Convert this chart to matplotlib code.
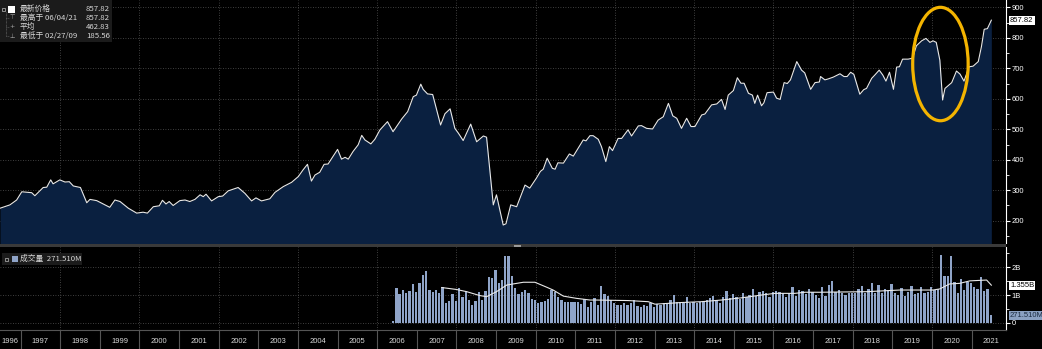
import numpy as np
import matplotlib.pyplot as plt
from matplotlib.patches import Ellipse, Rectangle

plt.rcParams['font.family'] = ['Liberation Sans', 'DejaVu Sans']
CJK = ['Noto Sans CJK SC', 'DejaVu Sans']

# price index (decimal year, level)
price_t = [1996.48, 1996.73, 1996.90, 1997.03, 1997.28, 1997.36, 1997.57, 1997.66, 1997.76, 1997.82,
           1997.99, 1998.12, 1998.23, 1998.33, 1998.51, 1998.67, 1998.75, 1998.92, 1999.25, 1999.38,
           1999.51, 1999.72, 1999.93, 2000.09, 2000.20, 2000.35, 2000.50, 2000.58, 2000.67, 2000.75,
           2000.85, 2001.02, 2001.15, 2001.27, 2001.40, 2001.53, 2001.61, 2001.68, 2001.82, 2001.99,
           2002.10, 2002.24, 2002.49, 2002.66, 2002.83, 2002.94, 2003.08, 2003.29, 2003.42, 2003.63,
           2003.84, 2004.01, 2004.13, 2004.24, 2004.34, 2004.43, 2004.55, 2004.66, 2004.76, 2005.00,
           2005.10, 2005.19, 2005.27, 2005.39, 2005.52, 2005.61, 2005.69, 2005.84, 2005.94, 2006.07,
           2006.26, 2006.40, 2006.62, 2006.77, 2006.91, 2006.99, 2007.10, 2007.16, 2007.27, 2007.40,
           2007.60, 2007.71, 2007.84, 2007.96, 2008.05, 2008.17, 2008.36, 2008.51, 2008.68, 2008.76,
           2008.93, 2009.01, 2009.18, 2009.25, 2009.37, 2009.52, 2009.73, 2009.85, 2010.02, 2010.12,
           2010.19, 2010.29, 2010.42, 2010.49, 2010.56, 2010.70, 2010.85, 2010.95, 2011.20, 2011.27,
           2011.37, 2011.45, 2011.58, 2011.66, 2011.77, 2011.86, 2011.94, 2012.08, 2012.17, 2012.33,
           2012.42, 2012.59, 2012.67, 2012.80, 2012.95, 2013.09, 2013.22, 2013.35, 2013.46, 2013.56,
           2013.68, 2013.81, 2013.92, 2014.02, 2014.19, 2014.27, 2014.44, 2014.57, 2014.69, 2014.78,
           2014.86, 2014.99, 2015.09, 2015.18, 2015.26, 2015.37, 2015.47, 2015.53, 2015.60, 2015.70,
           2015.76, 2015.84, 2016.00, 2016.08, 2016.17, 2016.27, 2016.35, 2016.43, 2016.59, 2016.71,
           2016.79, 2016.94, 2017.05, 2017.16, 2017.19, 2017.30, 2017.38, 2017.51, 2017.68, 2017.78,
           2017.86, 2017.95, 2018.03, 2018.18, 2018.28, 2018.35, 2018.48, 2018.56, 2018.67, 2018.76,
           2018.84, 2018.93, 2019.03, 2019.11, 2019.18, 2019.26, 2019.40, 2019.51, 2019.61, 2019.74,
           2019.85, 2019.95, 2020.03, 2020.11, 2020.20, 2020.27, 2020.33, 2020.50, 2020.62, 2020.71,
           2020.81, 2020.94, 2021.04, 2021.17, 2021.25, 2021.32, 2021.40, 2021.50]
price_v = [241, 252, 268, 295, 292, 282, 309, 310, 334, 321,
           334, 327, 328, 314, 309, 259, 270, 266, 244, 268,
           263, 241, 225, 228, 225, 246, 249, 267, 255, 263,
           250, 266, 268, 263, 270, 285, 279, 287, 265, 279,
           281, 298, 309, 290, 265, 275, 265, 272, 293, 312,
           326, 345, 367, 385, 330, 350, 359, 385, 386, 434,
           402, 408, 402, 427, 449, 480, 465, 452, 467, 498,
           525, 492, 534, 558, 607, 612, 648, 631, 616, 614,
           514, 551, 567, 503, 487, 463, 517, 459, 478, 474,
           252, 285, 186, 190, 252, 246, 317, 307, 340, 362,
           369, 405, 372, 369, 390, 389, 419, 412, 465, 462,
           479, 479, 467, 443, 394, 443, 430, 470, 470, 498,
           478, 511, 512, 503, 501, 530, 541, 585, 544, 536,
           503, 536, 509, 509, 547, 550, 580, 583, 598, 565,
           612, 627, 669, 651, 651, 618, 612, 585, 612, 577,
           587, 620, 622, 602, 598, 653, 650, 662, 722, 694,
           685, 631, 653, 655, 673, 662, 665, 671, 682, 673,
           673, 687, 680, 615, 630, 634, 667, 678, 694, 678,
           658, 687, 631, 704, 705, 730, 730, 733, 774, 790,
           798, 785, 790, 785, 727, 596, 634, 653, 691, 681,
           658, 705, 707, 722, 771, 828, 830, 857.82]

# monthly volume in billions, first bar mid-2006
vol_start = 2006.40
vol_b = [0.07, 1.24, 1.02, 1.18, 1.08, 1.14, 1.40, 1.12, 1.42, 1.72,
         1.87, 1.18, 1.12, 1.18, 1.08, 1.28, 0.70, 0.80, 1.04, 0.80,
         1.24, 0.94, 1.14, 0.82, 0.64, 0.80, 1.11, 0.82, 1.14, 1.66,
         1.60, 1.90, 1.45, 1.54, 2.39, 2.42, 1.69, 1.24, 1.04, 1.10,
         1.18, 1.06, 0.84, 0.82, 0.72, 0.76, 0.78, 0.84, 1.18, 1.12,
         0.94, 0.82, 0.76, 0.76, 0.76, 0.76, 0.76, 0.67, 0.84, 0.58,
         0.76, 0.88, 0.64, 1.33, 1.02, 0.96, 0.82, 0.72, 0.64, 0.64,
         0.72, 0.64, 0.72, 0.82, 0.60, 0.58, 0.64, 0.60, 0.70, 0.58,
         0.67, 0.64, 0.70, 0.67, 0.82, 1.00, 0.76, 0.76, 0.72, 0.94,
         0.72, 0.76, 0.72, 0.76, 0.80, 0.82, 0.88, 0.96, 0.82, 0.70,
         0.92, 1.14, 0.88, 1.04, 0.94, 0.84, 1.08, 0.94, 1.00, 1.20,
         0.96, 1.10, 1.16, 1.06, 0.94, 1.12, 1.16, 1.12, 1.08, 0.94,
         1.08, 1.28, 0.96, 1.18, 1.16, 1.02, 1.20, 1.12, 1.00, 0.88,
         1.28, 0.96, 1.36, 1.51, 1.12, 1.18, 1.08, 1.00, 1.06, 1.08,
         1.06, 1.20, 1.33, 1.08, 1.20, 1.45, 1.06, 1.36, 1.08, 1.20,
         1.18, 1.40, 1.06, 1.00, 1.27, 0.96, 1.12, 1.33, 1.04, 1.08,
         1.28, 1.08, 1.12, 1.28, 1.18, 1.20, 2.45, 1.69, 1.69, 2.41,
         1.48, 1.08, 1.57, 1.18, 1.48, 1.42, 1.28, 1.20, 1.66, 1.14,
         1.20, 0.27151]
vol_t = vol_start + np.arange(len(vol_b)) / 12

# volume moving average
ma_t = [2007.63, 2008.00, 2008.26, 2008.59, 2008.76, 2009.01, 2009.27, 2009.52, 2009.69, 2009.98,
        2010.28, 2010.44, 2010.70, 2011.03, 2011.37, 2011.50, 2012.34, 2012.84, 2013.01, 2013.35,
        2013.68, 2014.19, 2014.69, 2015.20, 2015.70, 2016.04, 2016.54, 2016.80, 2017.18, 2018.35,
        2019.19, 2020.03, 2020.20, 2020.45, 2020.70, 2020.96, 2021.38, 2021.50]
ma_b = [1.27, 1.20, 1.12, 0.98, 0.94, 1.12, 1.36, 1.42, 1.46, 1.46,
        1.28, 1.18, 0.96, 0.88, 0.82, 0.82, 0.80, 0.76, 0.67, 0.70,
        0.73, 0.76, 0.82, 0.90, 1.00, 1.06, 1.06, 1.10, 1.10, 1.12,
        1.18, 1.18, 1.22, 1.40, 1.42, 1.51, 1.54, 1.355]

legend_rows = [("最新价格", "857.82"), ("最高于 06/04/21", "857.82"),
               ("平均", "462.83"), ("最低于 02/27/09", "185.56")]
legend_icons = ["", "⊤", "+", "⊥"]
last_price = price_v[-1]
last_ma = ma_b[-1]
last_vol = vol_b[-1]

years = list(range(1996, 2022))
year_starts = years[1:]
year_lbl_pos = [y + 0.5 for y in years]
year_lbl_pos[0] = 1996.72

NAVY = '#0a2040'
BAR = '#8fa4c8'
GRID = '#555555'
TXT = '#d8d8d8'
W, H = 1042, 349
x_lim = (1996.48, 2021.87)

fig = plt.figure(figsize=(W / 100, H / 100), dpi=100, facecolor='black')
ax = fig.add_axes([0, 1 - 243 / H, 1006 / W, 243 / H])
axv = fig.add_axes([0, 1 - 330 / H, 1006 / W, 83 / H])

# --- price panel
ax.set_facecolor('black')
ax.fill_between(price_t, price_v, 0, color=NAVY, lw=0, zorder=2)
ax.plot(price_t, price_v, color='#e8e8e8', lw=0.8, zorder=3)
ax.set_xlim(*x_lim)
ax.set_ylim(127, 924)
for v in range(200, 901, 100):
    ax.axhline(v, color=GRID, lw=0.6, ls=(0, (1, 2)), zorder=1)
for y in range(1998, 2021, 2):
    ax.axvline(y, color=GRID, lw=0.6, ls=(0, (1, 2)), zorder=1)
ax.add_patch(Ellipse((2020.215, 714), 1.40, 372, fill=False,
                     edgecolor='#f4b400', lw=2.3, zorder=4))

ax.yaxis.tick_right()
ax.set_yticks(range(200, 901, 100))
ax.set_yticks(range(150, 900, 100), minor=True)
ax.tick_params(axis='y', which='major', colors='white', labelsize=5.5, length=3, pad=1)
ax.tick_params(axis='y', which='minor', colors='white', length=2)
ax.tick_params(axis='x', which='both', length=0, labelbottom=False)
for s in ['top', 'left', 'bottom']:
    ax.spines[s].set_visible(False)
ax.spines['right'].set_color('white')
ax.annotate(f"{last_price:.2f}", xy=(1.004, last_price), xycoords=('axes fraction', 'data'),
            va='center', ha='left', fontsize=5.5, color='black',
            bbox=dict(boxstyle='square,pad=0.15', fc='white', ec='none'), annotation_clip=False)

# --- volume panel
axv.set_facecolor('black')
axv.bar(vol_t, vol_b, width=0.7 / 12, color=BAR, lw=0, zorder=2)
axv.plot(ma_t, ma_b, color='#e8e8e8', lw=0.8, zorder=3)
axv.set_xlim(*x_lim)
axv.set_ylim(-0.26, 2.73)
for v in [0, 1, 2]:
    axv.axhline(v, color=GRID, lw=0.6, ls=(0, (1, 2)), zorder=1)
for y in range(1998, 2021, 2):
    axv.axvline(y, color=GRID, lw=0.6, ls=(0, (1, 2)), zorder=1)

axv.yaxis.tick_right()
axv.set_yticks([0, 1, 2])
axv.set_yticklabels(['0', '1B', '2B'])
axv.set_yticks([0.5, 1.5, 2.5], minor=True)
axv.tick_params(axis='y', which='major', colors='white', labelsize=5.5, length=3, pad=1)
axv.tick_params(axis='y', which='minor', colors='white', length=2)
axv.set_xticks(year_starts)
axv.set_xticklabels([])
axv.set_xticks(year_lbl_pos, minor=True)
axv.set_xticklabels([str(y) for y in years], minor=True)
axv.tick_params(axis='x', which='major', colors='#555555', length=14, width=0.8)
axv.tick_params(axis='x', which='minor', length=0, pad=6, labelsize=5.5, labelcolor=TXT)
axv.spines['top'].set_visible(False)
axv.spines['left'].set_visible(False)
axv.spines['bottom'].set_color('#555555')
axv.spines['right'].set_color('white')
axv.annotate(f"{last_ma:.3f}B", xy=(1.004, last_ma), xycoords=('axes fraction', 'data'),
             va='center', ha='left', fontsize=5.5, color='black',
             bbox=dict(boxstyle='square,pad=0.15', fc='white', ec='none'), annotation_clip=False)
axv.annotate(f"{last_vol * 1000:.3f}M", xy=(1.004, last_vol), xycoords=('axes fraction', 'data'),
             va='center', ha='left', fontsize=5.5, color='#1a2a40',
             bbox=dict(boxstyle='square,pad=0.15', fc='#8aa0c2', ec='none'), annotation_clip=False)

# separator between panels
fig.add_artist(Rectangle((0, 1 - 247 / H), 1006 / W, 3 / H, transform=fig.transFigure,
                         color='#3a3a3a', lw=0))
fig.add_artist(Rectangle((514 / W, 1 - 246.5 / H), 7 / W, 2 / H, transform=fig.transFigure,
                         color='#9a9a9a', lw=0))

# price legend box
fig.add_artist(Rectangle((0, 1 - 42 / H), 112 / W, 42 / H, transform=fig.transFigure,
                         color='#1b1b1b', lw=0, zorder=5))
fig.add_artist(Rectangle((2 / W, 1 - 11 / H), 3 / W, 3 / H, transform=fig.transFigure,
                         fill=False, ec='#bbbbbb', lw=0.5, zorder=6))
fig.add_artist(Rectangle((7.5 / W, 1 - 13 / H), 7 / W, 7 / H, transform=fig.transFigure,
                         color='white', lw=0, zorder=6))
row_y = [9, 18, 27, 36]
for (lbl, val), icon, ry in zip(legend_rows, legend_icons, row_y):
    fig.text(20 / W, 1 - ry / H, lbl, family=CJK, fontsize=5.6, color=TXT,
             va='center', ha='left', zorder=7)
    fig.text(110 / W, 1 - ry / H, val, family=CJK, fontsize=5.6, color=TXT,
             va='center', ha='right', zorder=7)
    if icon:
        fig.text(12 / W, 1 - ry / H, icon, family=['DejaVu Sans'], fontsize=4.5,
                 color='#aaaaaa', va='center', ha='center', zorder=7)
        fig.add_artist(plt.Line2D([6 / W, 9 / W], [1 - ry / H, 1 - ry / H], transform=fig.transFigure,
                                  color='#777777', lw=0.5, ls=(0, (1, 1)), zorder=6))
fig.add_artist(plt.Line2D([6 / W, 6 / W], [1 - 12 / H, 1 - 36 / H], transform=fig.transFigure,
                          color='#777777', lw=0.5, ls=(0, (1, 1)), zorder=6))

# volume legend box
fig.add_artist(Rectangle((1.5 / W, 1 - 264.5 / H), 80.5 / W, 12 / H, transform=fig.transFigure,
                         color='#1b1b1b', lw=0, zorder=5))
fig.add_artist(Rectangle((4.5 / W, 1 - 260.5 / H), 3 / W, 3 / H, transform=fig.transFigure,
                         fill=False, ec='#bbbbbb', lw=0.5, zorder=6))
fig.add_artist(Rectangle((11.5 / W, 1 - 262 / H), 6 / W, 6 / H, transform=fig.transFigure,
                         color=BAR, lw=0, zorder=6))
fig.text(20.5 / W, 1 - 258.5 / H, f"成交量  {last_vol * 1000:.3f}M", family=CJK, fontsize=5.6,
         color=TXT, va='center', ha='left', zorder=7)

fig.savefig('out.png', dpi=100, facecolor='black')
